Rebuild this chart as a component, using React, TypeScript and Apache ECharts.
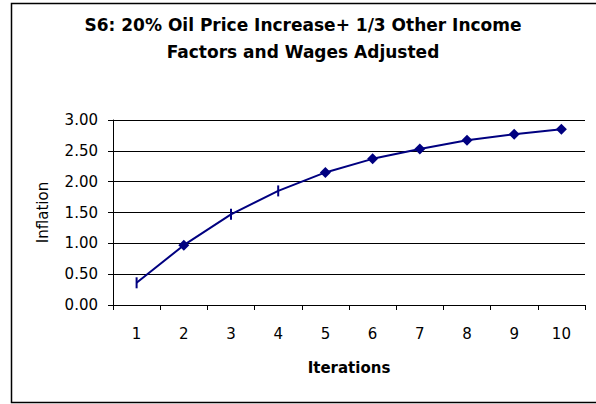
import React, { useEffect, useRef } from "react";
import * as echarts from "echarts";

const categories = ["1", "2", "3", "4", "5", "6", "7", "8", "9", "10"];
const inflation = [0.36, 0.97, 1.47, 1.85, 2.15, 2.37, 2.53, 2.67, 2.77, 2.85];
const tickMarkerPoints = [0, 2, 3];
const titleLines = ["S6: 20% Oil Price Increase+ 1/3 Other Income", "Factors and Wages Adjusted"];

export default function App() {
  const ref = useRef<HTMLDivElement>(null);
  useEffect(() => {
    document.body.style.margin = "0";
    const chart = echarts.init(ref.current!, null, { renderer: "svg" });
    const font = "'DejaVu Sans', sans-serif";
    chart.setOption({
      animation: false,
      backgroundColor: "#fff",
      title: {
        text: titleLines.join("\n"),
        left: 303,
        textAlign: "center",
        top: 11,
        padding: 0,
        textStyle: { fontFamily: font, fontWeight: "bold", fontSize: 17, lineHeight: 27, color: "#000" },
      },
      graphic: [
        {
          type: "rect",
          shape: { x: 11.5, y: 3.5, width: 600, height: 399 },
          style: { fill: "none", stroke: "#000", lineWidth: 1.5 },
          silent: true,
        },
      ],
      grid: { left: 113, right: 11, top: 120, bottom: 99 },
      xAxis: {
        type: "category",
        data: categories,
        boundaryGap: true,
        name: "Iterations",
        nameLocation: "middle",
        nameGap: 55,
        nameTextStyle: { fontFamily: font, fontWeight: "bold", fontSize: 15, color: "#000" },
        axisLine: { lineStyle: { color: "#000", width: 1 } },
        axisTick: { show: true, inside: false, length: 5, lineStyle: { color: "#000" } },
        axisLabel: { fontFamily: font, fontSize: 15, color: "#000", margin: 21 },
      },
      yAxis: {
        type: "value",
        min: 0,
        max: 3,
        interval: 0.5,
        name: "Inflation",
        nameLocation: "middle",
        nameGap: 63,
        nameRotate: 90,
        nameTextStyle: { fontFamily: font, fontSize: 15, color: "#000" },
        axisLine: { show: true, lineStyle: { color: "#000", width: 1 } },
        axisTick: { show: true, length: 5, lineStyle: { color: "#000" } },
        axisLabel: {
          fontFamily: font,
          fontSize: 15,
          color: "#000",
          margin: 15,
          formatter: (v: number) => v.toFixed(2),
        },
        splitLine: { show: true, lineStyle: { color: "#000", width: 1 } },
      },
      series: [
        {
          type: "line",
          data: inflation.map((v, i) =>
            tickMarkerPoints.includes(i)
              ? { value: v, symbol: "rect", symbolSize: [2, 11] }
              : { value: v }
          ),
          symbol: "diamond",
          symbolSize: 11,
          lineStyle: { color: "#000080", width: 2 },
          itemStyle: { color: "#000080" },
        },
      ],
    });
    return () => chart.dispose();
  }, []);
  return <div ref={ref} style={{ width: 596, height: 404 }} />;
}
